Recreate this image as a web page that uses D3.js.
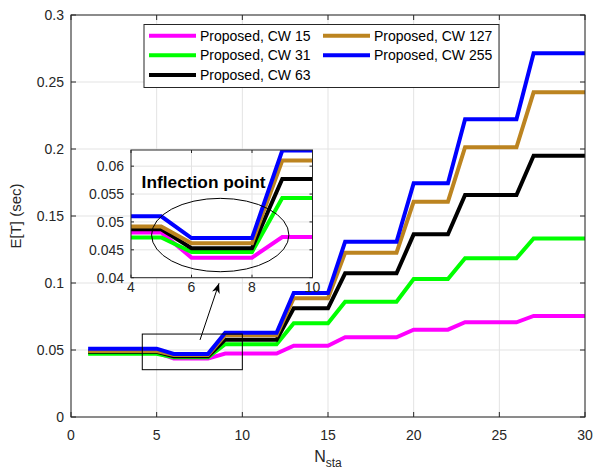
<!DOCTYPE html>
<html>
<head>
<meta charset="utf-8">
<script src="https://cdn.jsdelivr.net/npm/d3@7"></script>
<style>
  body { margin: 0; background: #fff; }
  text { font-family: "Liberation Sans", Arial, Helvetica, sans-serif; fill: #262626; }
</style>
</head>
<body>
<div id="chart"></div>
<script>
// number of stations
const nSta = d3.range(1, 31);

// E[T] per station count, one step per group of stations
const cw15  = [0.0481,0.0481,0.0481,0.0481,0.0481,0.0436,0.0436,0.0436,0.0473,0.0473,0.0473,0.0473,0.0532,0.0532,0.0532,0.0595,0.0595,0.0595,0.0595,0.0652,0.0652,0.0652,0.0707,0.0707,0.0707,0.0707,0.0754,0.0754,0.0754,0.0754];
const cw31  = [0.0472,0.0472,0.0472,0.0472,0.0472,0.0446,0.0446,0.0446,0.0543,0.0543,0.0543,0.0543,0.0699,0.0699,0.0699,0.0860,0.0860,0.0860,0.0860,0.1030,0.1030,0.1030,0.1184,0.1184,0.1184,0.1184,0.1333,0.1333,0.1333,0.1333];
const cw63  = [0.0487,0.0487,0.0487,0.0487,0.0487,0.0453,0.0453,0.0453,0.0577,0.0577,0.0577,0.0577,0.0811,0.0811,0.0811,0.1072,0.1072,0.1072,0.1072,0.1363,0.1363,0.1363,0.1657,0.1657,0.1657,0.1657,0.1950,0.1950,0.1950,0.1950];
const cw127 = [0.0492,0.0492,0.0492,0.0492,0.0492,0.0462,0.0462,0.0462,0.0610,0.0610,0.0610,0.0610,0.0886,0.0886,0.0886,0.1226,0.1226,0.1226,0.1226,0.1607,0.1607,0.1607,0.2013,0.2013,0.2013,0.2013,0.2423,0.2423,0.2423,0.2423];
const cw255 = [0.0510,0.0510,0.0510,0.0510,0.0510,0.0471,0.0471,0.0471,0.0628,0.0628,0.0628,0.0628,0.0925,0.0925,0.0925,0.1308,0.1308,0.1308,0.1308,0.1744,0.1744,0.1744,0.2222,0.2222,0.2222,0.2222,0.2714,0.2714,0.2714,0.2714];

const seriesNames = ['Proposed, CW 15', 'Proposed, CW 31', 'Proposed, CW 63', 'Proposed, CW 127', 'Proposed, CW 255'];
const seriesColors = ['#ff00ff', '#00ff00', '#000000', '#bc8420', '#0000ff'];
const seriesValues = [cw15, cw31, cw63, cw127, cw255];

const xTicks = [0, 5, 10, 15, 20, 25, 30];
const yTicks = [0, 0.05, 0.1, 0.15, 0.2, 0.25, 0.3];
const insetXTicks = [4, 6, 8, 10];
const insetYTicks = [0.04, 0.045, 0.05, 0.055, 0.06];

const width = 596, height = 470;
const axisColor = '#262626', gridColor = '#e3e3e3';

const svg = d3.select('#chart').append('svg')
  .attr('width', width).attr('height', height);

const x = d3.scaleLinear().domain([0, 30]).range([71, 585]);
const y = d3.scaleLinear().domain([0, 0.3]).range([417, 15]);

// white background + grid lines
function drawAxes(g, xs, ys, xt, yt) {
  const [x0, x1] = xs.range(), [y0, y1] = ys.range();
  g.append('rect').attr('x', x0).attr('y', y1).attr('width', x1 - x0).attr('height', y0 - y1).attr('fill', '#fff');
  g.selectAll('.gx').data(xt).join('line')
    .attr('x1', d => xs(d)).attr('x2', d => xs(d)).attr('y1', y0).attr('y2', y1)
    .attr('stroke', gridColor).attr('stroke-width', 1);
  g.selectAll('.gy').data(yt).join('line')
    .attr('y1', d => ys(d)).attr('y2', d => ys(d)).attr('x1', x0).attr('x2', x1)
    .attr('stroke', gridColor).attr('stroke-width', 1);
}

// box, inward ticks on all sides, tick labels
function drawFrame(g, xs, ys, xt, yt, tickLen, fmtY, labelGap) {
  const [x0, x1] = xs.range(), [y0, y1] = ys.range();
  g.append('rect').attr('x', x0).attr('y', y1).attr('width', x1 - x0).attr('height', y0 - y1)
    .attr('fill', 'none').attr('stroke', axisColor).attr('stroke-width', 1);
  xt.forEach(d => {
    g.append('line').attr('x1', xs(d)).attr('x2', xs(d)).attr('y1', y0).attr('y2', y0 - tickLen).attr('stroke', axisColor);
    g.append('line').attr('x1', xs(d)).attr('x2', xs(d)).attr('y1', y1).attr('y2', y1 + tickLen).attr('stroke', axisColor);
    g.append('text').attr('x', xs(d)).attr('y', y0 + labelGap).attr('text-anchor', 'middle')
      .style('font-size', '14px').text(d);
  });
  yt.forEach(d => {
    g.append('line').attr('y1', ys(d)).attr('y2', ys(d)).attr('x1', x0).attr('x2', x0 + tickLen).attr('stroke', axisColor);
    g.append('line').attr('y1', ys(d)).attr('y2', ys(d)).attr('x1', x1).attr('x2', x1 - tickLen).attr('stroke', axisColor);
    g.append('text').attr('x', x0 - 7).attr('y', ys(d)).attr('dy', '0.35em').attr('text-anchor', 'end')
      .style('font-size', '14px').text(fmtY(d));
  });
}

function drawLines(g, xs, ys, clipId) {
  const [x0, x1] = xs.range(), [y0, y1] = ys.range();
  g.append('clipPath').attr('id', clipId).append('rect')
    .attr('x', x0).attr('y', y1).attr('width', x1 - x0).attr('height', y0 - y1);
  const line = d3.line().x((d, i) => xs(nSta[i])).y(d => ys(d));
  g.append('g').attr('clip-path', `url(#${clipId})`)
    .selectAll('path').data(seriesValues).join('path')
    .attr('d', line).attr('fill', 'none')
    .attr('stroke', (d, i) => seriesColors[i]).attr('stroke-width', 4)
    .attr('stroke-linejoin', 'miter');
}

// main axes
const main = svg.append('g');
drawAxes(main, x, y, xTicks, yTicks);
drawLines(main, x, y, 'clipMain');
drawFrame(main, x, y, xTicks, yTicks, 5, d => d3.format('~g')(d), 23);

// zoom rectangle and arrow in main axes
main.append('rect')
  .attr('x', x(4.16)).attr('y', y(0.0619))
  .attr('width', x(10) - x(4.16)).attr('height', y(0.0353) - y(0.0619))
  .attr('fill', 'none').attr('stroke', '#000').attr('stroke-width', 1);

svg.append('defs').append('marker')
  .attr('id', 'arrowHead').attr('viewBox', '0 0 10 10')
  .attr('refX', 10).attr('refY', 5)
  .attr('markerWidth', 10).attr('markerHeight', 10).attr('markerUnits', 'userSpaceOnUse')
  .attr('orient', 'auto')
  .append('path').attr('d', 'M0,1 L10,5 L0,9 L3,5 Z').attr('fill', '#000');

main.append('line')
  .attr('x1', x(7.53)).attr('y1', y(0.0575))
  .attr('x2', x(8.64)).attr('y2', y(0.0998))
  .attr('stroke', '#000').attr('stroke-width', 1)
  .attr('marker-end', 'url(#arrowHead)');

// axis labels
svg.append('text')
  .attr('transform', `translate(21,${(y.range()[0] + y.range()[1]) / 2}) rotate(-90)`)
  .attr('text-anchor', 'middle').style('font-size', '15px').text('E[T] (sec)');

const xl = svg.append('text').attr('x', 328).attr('y', 462).attr('text-anchor', 'middle').style('font-size', '16px');
xl.append('tspan').text('N');
xl.append('tspan').attr('dy', 5).style('font-size', '12px').text('sta');

// inset axes
const xi = d3.scaleLinear().domain([4, 10]).range([131, 312.5]);
const yi = d3.scaleLinear().domain([0.04, 0.0629]).range([277.7, 150]);
const inset = svg.append('g');
drawAxes(inset, xi, yi, insetXTicks, insetYTicks);
drawLines(inset, xi, yi, 'clipInset');
drawFrame(inset, xi, yi, insetXTicks, insetYTicks, 3, d => d3.format('~g')(d), 14);

inset.append('ellipse')
  .attr('cx', xi(6.95)).attr('cy', yi(0.04765))
  .attr('rx', xi(6.95 + 2.27) - xi(6.95)).attr('ry', yi(0.04765) - yi(0.04765 + 0.00658))
  .attr('fill', 'none').attr('stroke', '#000').attr('stroke-width', 1);

inset.append('text')
  .attr('x', xi(4.35)).attr('y', yi(0.0561))
  .attr('textLength', 124).attr('lengthAdjust', 'spacingAndGlyphs')
  .style('font-size', '17px').style('font-weight', 'bold').style('fill', '#000')
  .text('Inflection point');

// legend, two columns filled column by column
const legend = svg.append('g');
legend.append('rect').attr('x', 144).attr('y', 24.5).attr('width', 355).attr('height', 63)
  .attr('fill', '#fff').attr('stroke', axisColor).attr('stroke-width', 1);
const legendCols = [149, 323];
const legendRows = [35.7, 55.3, 75];
seriesNames.forEach((name, i) => {
  const col = i < 3 ? 0 : 1, row = i < 3 ? i : i - 3;
  const lx = legendCols[col], ly = legendRows[row];
  legend.append('line').attr('x1', lx).attr('x2', lx + 47).attr('y1', ly).attr('y2', ly)
    .attr('stroke', seriesColors[i]).attr('stroke-width', 4);
  legend.append('text').attr('x', lx + 51).attr('y', ly).attr('dy', '0.35em')
    .style('font-size', '14px').style('fill', '#000').text(name);
});
</script>
</body>
</html>
